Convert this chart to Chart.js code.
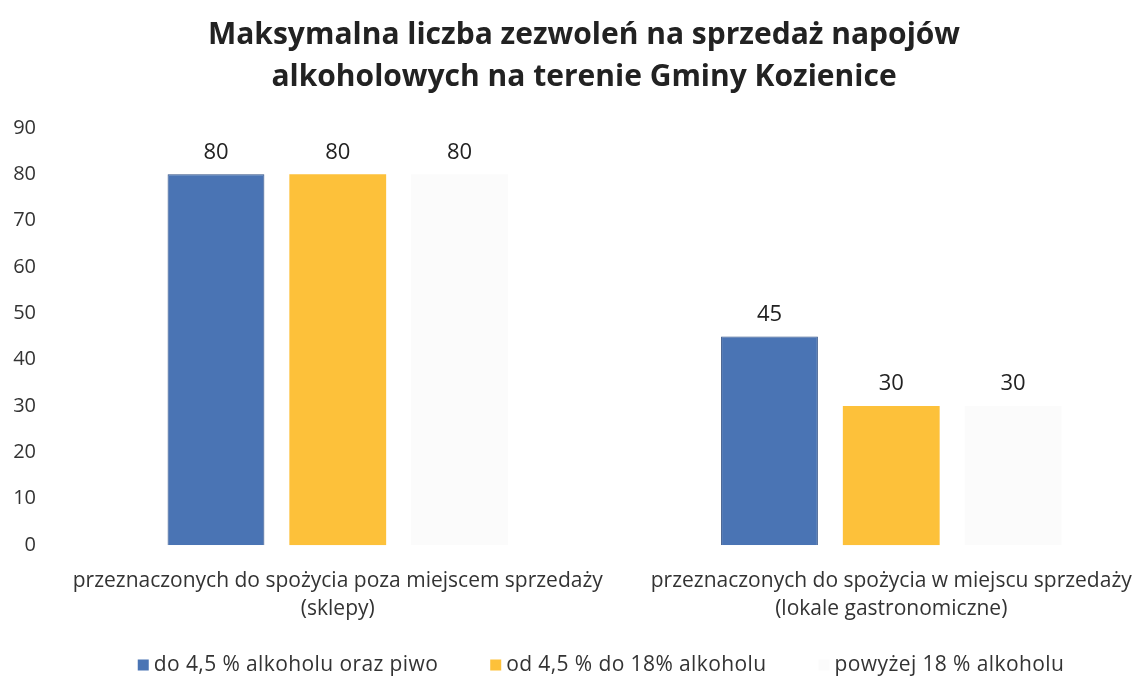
<!DOCTYPE html>
<html><head><meta charset="utf-8">
<script src="https://cdn.jsdelivr.net/npm/chart.js@4/dist/chart.umd.min.js"></script>
<style>
html,body{margin:0;padding:0;background:#fff;overflow:hidden;width:1144px;height:680px}
#wrap{position:relative;width:1170px;height:680px}
</style></head>
<body><div id="wrap"><canvas id="c"></canvas></div>
<script>
const titleLines = ["Maksymalna liczba zezwoleń na sprzedaż napojów", "alkoholowych na terenie Gminy Kozienice"];
const categories = [
  ["przeznaczonych do spożycia poza miejscem sprzedaży", "(sklepy)"],
  ["przeznaczonych do spożycia w miejscu sprzedaży", "(lokale gastronomiczne)"]
];
const seriesNames = ["do 4,5 % alkoholu oraz piwo", "od 4,5 % do 18% alkoholu", "powyżej 18 % alkoholu"];
const upTo45 = [80, 45];
const from45to18 = [80, 30];
const above18 = [80, 30];
const yTickValues = [0, 10, 20, 30, 40, 50, 60, 70, 80, 90];

const colors = ["#4a74b4", "#fdc13a", "#fbfbfb"];
const borders = ["#2f4f84", "#fdc13a", "#fbfbfb"];
const FONT = "'Open Sans', 'DejaVu Sans', sans-serif";

const valueLabels = {
  id: 'valueLabels',
  afterDatasetsDraw(chart) {
    const ctx = chart.ctx;
    ctx.save();
    ctx.font = "22px " + FONT;
    ctx.fillStyle = "#222";
    ctx.textAlign = "center";
    ctx.textBaseline = "bottom";
    chart.data.datasets.forEach((ds, i) => {
      chart.getDatasetMeta(i).data.forEach((el, j) => {
        ctx.fillText(String(ds.data[j]), el.x, el.y - 11);
      });
    });
    ctx.restore();
  }
};

const customLegend = {
  id: 'customLegend',
  afterDraw(chart) {
    const ctx = chart.ctx;
    ctx.save();
    ctx.font = "21px " + FONT;
    if ('letterSpacing' in ctx) ctx.letterSpacing = "0.4px";
    ctx.textBaseline = "middle";
    ctx.textAlign = "left";
    const y = 665, box = 11, gapBox = 5, gapItem = 52;
    const widths = seriesNames.map(t => box + gapBox + ctx.measureText(t).width);
    const total = widths.reduce((a, b) => a + b, 0) + gapItem * (widths.length - 1);
    let x = 601 - total / 2;
    seriesNames.forEach((t, i) => {
      ctx.fillStyle = colors[i];
      ctx.fillRect(x, y - box / 2, box, box);
      ctx.fillStyle = "#333";
      ctx.fillText(t, x + box + gapBox, y);
      x += widths[i] + gapItem;
    });
    ctx.restore();
  }
};

const datasets = [upTo45, from45to18, above18].map((d, i) => ({
  label: seriesNames[i],
  data: d,
  backgroundColor: colors[i],
  borderColor: borders[i],
  borderWidth: i === 0 ? 1 : 0,
  categoryPercentage: 0.66,
  barPercentage: 0.795
}));

new Chart(document.getElementById('c'), {
  type: 'bar',
  data: { labels: categories, datasets },
  plugins: [valueLabels, customLegend],
  options: {
    responsive: true,
    maintainAspectRatio: false,
    animation: false,
    layout: { padding: { left: 0, right: 2, top: 0, bottom: 35 } },
    plugins: {
      legend: { display: false },
      tooltip: { enabled: false },
      title: {
        display: true,
        text: titleLines,
        color: "#222",
        font: { family: FONT, size: 30, weight: 'bold', lineHeight: 1.4 },
        padding: { top: 14, bottom: 30 }
      }
    },
    scales: {
      x: {
        grid: { display: false, drawTicks: false },
        border: { display: false },
        ticks: {
          color: "#333",
          font: { family: FONT, size: 21, lineHeight: 1.33 },
          padding: 22,
          maxRotation: 0,
          autoSkip: false
        }
      },
      y: {
        min: 0, max: 90,
        afterBuildTicks(scale) { scale.ticks = yTickValues.map(v => ({ value: v })); },
        afterFit(scale) { scale.width = 61; },
        grid: { display: false, drawTicks: false },
        border: { display: false },
        ticks: {
          color: "#333",
          font: { family: FONT, size: 20 },
          padding: 25
        }
      }
    }
  }
});
</script>
</body></html>
